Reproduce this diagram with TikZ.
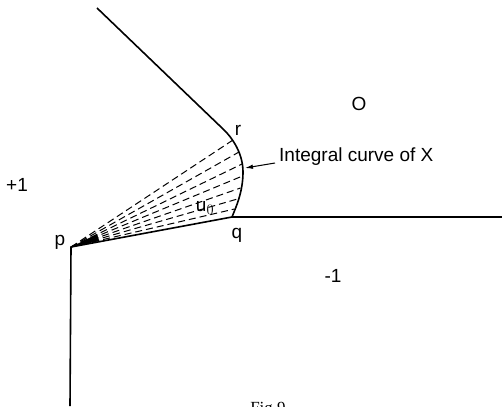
\documentclass[tikz,border=0pt]{standalone}
\usepackage{fontspec}
\setmainfont{Liberation Sans}
\newfontfamily\figfont{Liberation Serif}
\usetikzlibrary{arrows.meta}
\begin{document}
\begin{tikzpicture}[x=1pt,y=-1pt,
  edge/.style={line width=1.6pt, line join=round},
  fanline/.style={line width=1pt, dash pattern=on 7pt off 4pt},
  lbl/.style={inner sep=0pt, font=\fontsize{19}{21}\selectfont}]
\clip (0,0) rectangle (502,406);
\fill[white] (0,0) rectangle (502,406);
% key points
\coordinate (top) at (97,8);
\coordinate (r) at (222,128);
\coordinate (m) at (243,172);
\coordinate (q) at (232,217);
\coordinate (p) at (71,247);
\coordinate (east) at (502,217);
\coordinate (bot) at (70,406);
% boundaries
\draw[edge] (top) -- (r) .. controls (233,138) and (243,154) .. (m)
  .. controls (243,192) and (236,207) .. (q) -- (east);
\draw[edge] (bot) -- (p) -- (q);
% fan of dashed lines
\foreach \pt [count=\i] in {(233,140),(239,152),(242,164),(242.5,176),(240.5,188),(237.5,199),(234.5,209)}
  \draw[fanline] (p) -- \pt;
\fill (p) -- (97,234) -- (99,241) -- cycle;
% labels
\node[lbl] (lp) at (60,242) {p};
\node[lbl] (lq) at (237,235) {q};
\node[lbl] (lr) at (238,130) {r};
\node[lbl] (lu) at (205,208) {u$_0$};
\node[lbl] (lO) at (359,104) {O};
\node[lbl] (lplus) at (17,185) {+1};
\node[lbl] (lminus) at (333,276) {-1};
\node[lbl, anchor=west] (ic) at (279,157) {Integral curve of X};
\coordinate (ah) at (245,168);
\draw[line width=1pt, -{Latex[length=8pt,width=4.5pt]}] (ic.west) ++(-4,6) -- (ah);
\node[inner sep=0pt, font=\figfont\fontsize{17}{19}\selectfont] (fig) at (268,410) {Fig.9};
\end{tikzpicture}
\end{document}
